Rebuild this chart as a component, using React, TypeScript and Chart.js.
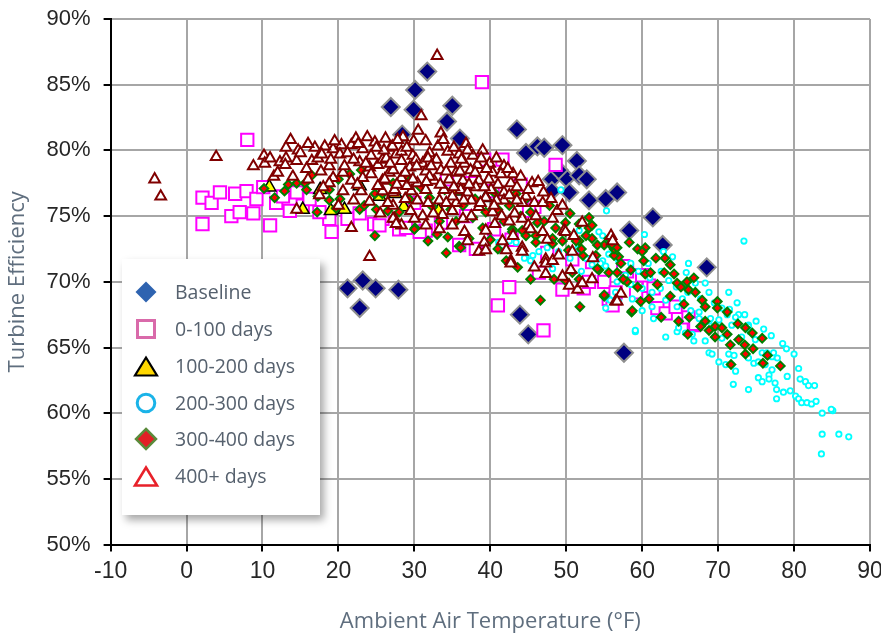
import React, { useEffect, useRef } from 'react';
import { Chart, registerables } from 'chart.js';

Chart.register(...registerables);

type P = [number, number];

// ---- Axis / tick data ----
const X_MIN = -10;
const X_MAX = 90;
const X_STEP = 10;
const Y_MIN = 50;
const Y_MAX = 90;
const Y_STEP = 5;

const SERIES_NAMES = ['Baseline', '0-100 days', '100-200 days', '200-300 days', '300-400 days', '400+ days'];

// ---- Series values: [ambient temperature °F, turbine efficiency %] ----
const baseline: P[] = [
  [31.7, 86.0], [30.1, 84.6], [26.9, 83.3], [29.9, 83.1], [35.0, 83.4], [34.3, 82.2], [28.4, 81.2], [36.0, 80.9],
  [43.5, 81.6], [44.7, 79.8], [46.2, 80.3], [47.1, 80.2], [49.5, 80.4], [51.4, 79.2], [48.1, 77.8], [50.0, 77.9],
  [51.7, 78.1], [52.7, 77.8], [49.0, 78.5], [48.1, 76.9], [50.4, 76.8], [53.0, 76.2], [55.2, 76.3], [56.7, 76.8],
  [61.4, 74.9], [58.3, 73.9], [62.7, 72.8], [68.5, 71.1], [57.6, 64.6], [43.9, 67.5], [45.0, 66.0], [21.2, 69.5],
  [23.2, 70.1], [24.9, 69.5], [22.8, 68.0], [27.9, 69.4],
];

const days0to100: P[] = [
  [8.0, 80.8], [2.1, 76.4], [3.3, 76.0], [4.4, 76.8], [6.4, 76.7], [7.9, 76.9], [9.2, 76.3], [5.9, 75.0],
  [7.0, 75.3], [8.8, 75.2], [2.1, 74.4], [11.0, 74.3], [11.8, 76.0], [12.7, 76.5], [13.6, 75.4], [15.3, 75.8],
  [16.2, 76.3], [19.1, 73.8], [18.8, 74.8], [21.2, 74.8], [22.8, 75.2], [24.7, 74.4], [25.8, 74.8], [10.1, 77.2],
  [17.5, 75.3], [14.5, 76.8],
  [38.9, 85.2], [41.6, 79.3], [39.2, 79.3], [48.6, 78.9], [44.0, 77.4], [45.8, 75.7], [25.4, 74.3], [28.0, 74.0],
  [28.9, 74.1], [31.1, 73.8], [31.5, 73.9], [30.7, 73.8], [35.9, 72.8], [38.1, 72.5], [45.1, 75.4], [53.4, 71.5],
  [50.8, 71.7], [46.4, 70.7], [49.5, 69.4], [52.3, 69.5], [53.0, 70.0], [55.6, 68.7], [42.5, 69.6], [41.0, 68.2],
  [47.0, 66.3], [33.5, 74.5], [36.8, 75.0], [40.5, 74.0], [42.8, 73.2], [47.5, 72.2], [37.5, 77.5], [40.3, 76.9],
  [34.3, 77.8], [30.0, 76.0],
  [55.0, 70.0], [56.5, 69.2], [56.1, 68.2], [60.9, 69.7], [61.5, 69.5], [62.0, 68.0], [63.1, 67.6], [64.4, 68.1],
  [66.8, 66.7], [66.1, 67.3], [67.0, 66.8], [58.0, 70.8], [59.2, 69.2], [57.5, 71.2], [60.0, 70.5],
];

const days100to200: P[] = [
  [10.9, 77.2], [15.3, 75.5], [19.0, 75.4], [20.8, 75.5], [22.8, 77.3], [25.4, 76.5], [27.5, 76.7], [28.6, 75.7],
  [33.2, 75.4], [35.5, 76.9], [39.4, 76.4], [17.6, 77.0],
];

const days200to300: P[] = [
  [59.1, 66.2], [61.5, 67.2], [63.1, 65.8], [64.6, 66.2], [65.7, 66.1], [66.8, 65.5], [66.6, 66.0], [68.3, 65.5],
  [67.5, 67.2], [68.8, 67.0], [70.1, 67.1], [71.2, 67.5], [72.7, 67.5], [71.8, 66.7], [74.0, 66.7], [74.2, 66.2],
  [73.1, 65.8], [74.9, 65.6], [71.6, 65.2], [70.5, 65.7], [68.8, 64.6], [69.2, 64.5], [70.1, 63.9], [71.0, 63.7],
  [72.3, 63.2], [71.4, 64.5], [72.1, 64.4], [74.0, 64.2], [74.7, 63.8], [75.3, 63.9], [75.8, 64.6], [76.4, 64.6],
  [77.1, 64.3], [77.3, 64.6], [77.8, 64.2], [76.2, 63.7], [77.1, 63.3], [76.7, 62.9], [75.3, 62.7], [75.8, 62.4],
  [76.7, 62.6], [77.5, 62.3], [77.7, 61.8], [78.6, 61.6], [79.5, 61.7], [80.6, 63.4], [80.8, 62.6], [81.5, 62.4],
  [81.9, 62.1], [82.7, 62.1], [79.1, 62.8], [80.2, 61.3], [80.6, 61.1], [81.0, 60.8], [81.7, 60.8], [82.3, 60.7],
  [82.9, 60.9], [77.7, 61.1], [74.0, 61.8], [72.0, 62.2], [83.7, 60.0], [85.1, 60.2], [83.7, 58.4], [85.9, 58.4],
  [87.2, 58.2], [83.6, 56.9], [84.9, 60.3],
  [55.3, 75.4], [60.3, 73.6], [73.4, 73.1], [64.0, 71.9], [66.1, 71.4], [65.8, 70.7], [68.3, 69.9], [68.8, 69.2],
  [71.4, 69.2], [67.7, 68.7], [65.3, 68.7], [63.1, 68.6], [62.4, 69.5], [64.6, 68.1], [61.3, 68.1], [60.0, 67.8],
  [58.7, 68.7], [56.9, 68.5], [55.2, 68.0], [55.6, 68.7], [54.8, 71.6], [55.2, 71.2], [56.7, 70.0], [58.5, 71.4],
  [66.4, 67.8], [67.5, 67.7], [69.0, 67.2], [72.3, 67.3], [74.0, 66.6], [59.1, 66.3], [54.8, 73.5], [64.8, 66.5],
  [61.3, 69.2], [60.0, 69.5],
  [41.4, 72.4], [42.5, 73.1], [43.4, 73.0], [44.7, 71.9], [45.6, 72.0], [46.4, 72.3], [47.5, 72.6], [48.2, 71.0],
  [51.7, 73.9], [54.3, 73.8], [55.6, 72.1], [56.9, 71.6], [53.4, 71.3], [52.6, 71.8], [54.5, 71.4], [55.8, 68.6],
  [56.5, 69.2], [49.3, 77.0], [44.5, 71.8], [45.3, 71.6], [41.1, 73.0],
  [49.0, 72.3], [50.5, 71.8], [51.5, 72.5], [52.0, 70.8], [53.5, 70.2], [57.8, 70.5], [58.5, 69.8], [59.5, 70.8],
  [61.0, 70.3], [62.5, 70.8], [63.5, 70.1], [64.5, 69.6], [66.0, 69.2], [67.0, 69.9], [69.5, 68.4], [70.5, 68.0],
  [71.5, 67.9], [72.5, 68.4], [73.5, 67.5], [75.0, 67.0], [76.0, 66.4], [77.0, 65.9], [78.5, 65.3], [80.0, 64.5],
  [79.0, 64.9], [62.8, 72.3], [60.8, 71.4],
];

const days300to400: P[] = [
  [58.6, 67.7], [64.8, 67.0], [66.2, 67.3], [68.3, 67.0], [67.7, 66.6], [68.8, 66.3], [69.6, 66.6], [69.6, 65.8],
  [71.2, 66.0], [72.6, 66.8], [73.6, 66.5], [71.6, 65.2], [72.7, 65.6], [73.5, 65.2], [74.6, 64.9], [73.6, 64.5],
  [75.8, 65.7], [75.9, 63.8], [78.2, 63.6], [71.7, 63.7], [71.2, 67.7],
  [58.3, 73.0], [59.4, 72.5], [60.4, 72.6], [60.0, 72.3], [61.8, 71.8], [60.2, 71.6], [63.7, 71.3], [56.9, 71.9],
  [56.3, 72.0], [57.2, 71.4], [55.6, 70.7], [56.7, 70.7], [58.5, 70.9], [58.0, 70.0], [59.4, 69.6], [60.4, 70.6],
  [61.1, 70.7], [62.9, 70.7], [64.2, 70.6], [64.6, 69.9], [65.1, 69.6], [65.9, 70.0], [66.8, 70.3], [66.1, 69.4],
  [67.0, 69.2], [63.7, 68.9], [60.9, 68.7], [59.8, 68.5], [58.7, 67.8], [55.0, 68.9], [67.9, 68.6], [68.3, 68.1],
  [69.9, 68.5], [69.9, 68.0], [54.3, 70.9], [55.0, 72.8], [55.9, 72.8], [56.3, 72.5],
  [30.1, 74.1], [31.8, 73.1], [34.2, 72.2], [35.9, 72.7], [34.4, 73.4], [41.0, 72.5], [42.1, 71.6], [43.6, 71.1],
  [45.3, 70.2], [46.6, 68.6], [48.4, 70.2], [51.8, 68.1], [52.2, 72.0], [53.9, 72.0], [54.1, 71.0], [56.1, 72.8],
  [49.9, 73.8], [48.2, 73.3], [46.0, 73.5], [44.2, 73.9], [42.9, 74.0], [53.0, 74.1], [51.7, 73.1], [53.4, 73.3],
  [55.0, 69.0], [50.8, 70.7], [49.9, 70.1], [51.7, 70.2],
  [26.5, 75.4], [28.0, 75.3], [30.0, 74.0], [36.1, 72.6], [37.2, 73.3], [39.0, 74.1], [43.4, 76.7], [42.5, 75.8],
  [44.7, 76.3], [45.3, 75.3], [46.2, 74.5], [47.1, 74.6], [48.6, 74.1], [49.9, 74.5], [51.7, 74.4], [53.0, 74.9],
  [53.4, 74.3], [52.6, 73.5], [51.3, 73.1], [54.1, 72.8], [55.6, 73.3], [56.7, 72.6], [49.5, 73.1], [48.2, 72.9],
  [46.0, 73.0], [44.7, 73.5], [42.9, 73.8], [32.4, 75.7], [34.8, 75.5], [33.3, 74.6], [35.5, 74.6], [37.7, 74.9],
  [39.4, 75.3], [41.0, 75.5], [36.4, 75.8], [29.3, 76.3], [32.0, 76.4], [25.8, 76.7], [27.2, 77.5],
  [10.2, 77.1], [11.6, 76.4], [12.9, 76.9], [13.4, 77.4], [14.5, 77.5], [15.6, 77.5], [15.8, 77.0], [16.5, 78.1],
  [17.3, 76.5], [18.8, 76.2], [18.8, 77.0], [19.7, 75.6], [20.2, 76.3], [21.5, 78.2], [22.8, 75.5], [23.4, 75.8],
  [24.8, 76.7], [25.0, 75.5], [24.8, 73.5], [17.2, 75.3],
  [38.0, 76.3], [40.5, 76.8], [30.8, 77.2], [34.0, 77.0], [28.8, 78.0], [23.0, 78.5], [20.0, 77.8], [36.5, 77.5],
  [41.8, 74.6], [44.0, 75.0], [47.8, 75.8], [50.5, 75.2], [52.0, 72.5], [57.5, 70.2], [62.0, 69.8], [63.0, 71.8],
  [65.5, 68.3], [62.5, 67.3], [66.0, 66.0], [70.5, 66.5], [74.5, 66.1], [76.5, 64.4], [50.3, 72.4], [40.0, 73.2],
  [33.0, 73.6], [27.5, 74.6],
];

const days400plus: P[] = [
  [-4.2, 77.8], [-3.4, 76.5], [3.9, 79.5], [8.8, 78.8], [10.2, 79.6], [10.3, 79.0], [11.5, 78.0], [13.7, 80.8],
  [13.1, 80.2], [14.7, 80.0], [12.3, 79.1], [13.1, 79.4], [14.5, 79.2], [16.5, 79.2], [16.9, 80.2], [17.3, 79.4],
  [18.8, 78.8], [19.3, 80.1], [20.4, 80.4], [21.7, 80.4], [20.2, 79.7], [21.2, 79.8], [23.2, 80.1], [24.3, 79.6],
  [22.8, 79.1], [24.1, 78.7], [25.2, 78.9], [25.8, 79.3], [26.9, 80.2], [27.6, 79.7], [17.7, 78.4], [19.3, 77.9],
  [20.6, 78.3], [21.7, 77.7], [23.2, 77.9], [24.3, 78.2], [25.8, 77.7], [26.7, 78.3], [23.0, 76.9], [24.1, 76.1],
  [27.2, 75.8], [27.4, 74.8], [14.5, 75.5], [21.7, 74.1], [24.1, 71.9], [18.8, 77.5], [20.6, 76.9], [25.8, 76.9],
  [27.2, 76.8],
  [33.0, 87.2], [30.9, 82.6], [33.5, 81.3],
  [29.9, 80.7], [31.5, 80.7], [27.1, 80.3], [33.1, 80.3], [34.4, 79.9], [35.9, 79.7], [37.7, 79.6], [39.9, 79.0],
  [41.8, 78.8], [28.3, 79.9], [29.8, 79.6], [32.0, 79.8], [26.3, 79.4], [28.3, 79.2], [31.1, 79.0], [32.9, 79.3],
  [34.8, 79.0], [36.6, 79.0], [38.3, 78.9], [27.2, 78.5], [29.4, 78.7], [31.5, 78.4], [33.5, 78.5], [35.5, 78.3],
  [37.4, 78.5], [40.3, 78.3], [41.4, 78.2], [42.7, 77.5], [26.1, 77.8], [28.3, 77.9], [30.4, 77.5], [32.6, 77.7],
  [34.6, 77.8], [36.4, 77.7], [38.5, 77.7], [41.0, 77.4], [27.4, 77.0], [29.6, 76.9], [31.5, 77.0], [33.9, 77.0],
  [36.1, 77.0], [38.1, 77.2], [40.1, 77.0], [41.8, 76.8], [44.7, 76.5], [26.5, 76.0], [30.4, 76.2], [33.3, 76.2],
  [35.5, 76.0], [37.5, 76.2], [39.4, 76.4], [41.8, 76.2], [44.2, 76.0], [45.8, 76.0], [46.9, 76.0], [48.8, 75.4],
  [48.2, 74.8], [27.2, 74.8], [31.1, 75.0], [33.7, 75.1], [36.4, 74.8], [38.5, 75.7], [40.3, 75.3], [42.5, 74.6],
  [44.2, 74.8], [46.0, 75.0], [28.3, 74.3], [33.3, 74.0], [36.6, 73.8], [39.4, 73.9], [41.6, 73.1], [39.2, 73.0],
  [38.5, 72.3], [42.7, 71.6], [44.2, 72.6], [47.3, 71.7], [49.7, 73.9], [52.1, 74.5], [55.9, 73.5], [45.8, 71.1],
  [27.6, 74.4], [37.0, 73.1], [39.4, 72.4], [42.1, 72.4], [42.7, 71.4], [44.2, 72.3], [47.3, 71.4], [48.2, 71.6],
  [47.3, 70.6], [49.5, 70.4], [50.6, 70.9], [50.4, 69.7], [51.5, 69.4], [52.1, 69.9], [53.4, 70.2], [56.5, 68.5],
  [49.9, 73.8], [46.9, 73.8], [56.1, 73.1], [57.2, 69.1], [56.7, 68.5],
  [43.5, 77.2], [45.5, 77.5], [47.0, 76.8], [43.0, 78.2], [39.0, 80.0], [36.8, 80.5], [30.5, 81.5], [28.5, 81.0],
  [24.8, 80.6], [22.3, 80.9], [19.0, 79.3], [15.8, 78.6], [12.0, 78.3], [29.0, 77.3], [32.0, 78.0], [35.0, 76.5],
  [37.0, 76.8], [39.8, 77.8], [43.2, 75.2], [45.0, 74.3], [47.5, 73.2], [50.8, 72.3], [53.5, 71.8], [51.0, 73.5],
  [49.0, 72.0], [35.0, 75.4], [30.0, 74.8], [25.5, 75.2], [22.0, 76.2], [20.0, 75.8], [17.5, 76.6], [16.0, 77.8],
  [26.0, 80.0], [27.8, 80.8], [29.0, 80.2], [30.2, 79.3], [31.8, 79.4], [33.8, 80.8], [35.2, 80.2], [36.2, 79.3],
  [37.0, 80.0], [38.8, 79.4], [40.8, 79.4], [42.3, 78.6], [44.0, 78.0], [45.0, 77.0], [46.3, 77.6], [48.0, 76.3],
  [49.5, 75.8], [26.8, 79.0], [28.8, 78.3], [30.3, 78.8], [32.2, 78.8], [34.2, 78.4], [36.0, 78.4], [38.0, 78.3],
  [39.5, 78.6], [27.7, 77.4], [29.8, 77.8], [31.6, 77.6], [33.4, 77.4], [35.2, 77.2], [37.2, 77.4], [39.2, 77.2],
  [40.8, 76.2], [42.5, 76.6], [28.8, 76.3], [31.8, 76.0], [34.2, 76.0], [36.5, 76.2], [38.7, 76.0], [40.5, 75.8],
  [43.5, 76.2], [29.5, 75.4], [32.5, 75.2], [37.5, 75.0], [41.5, 75.0], [45.3, 74.0], [43.0, 73.5], [40.6, 74.4],
  [35.0, 74.3], [31.5, 74.3],
  [15.0, 79.8], [16.0, 80.5], [18.2, 80.3], [19.5, 80.7], [22.6, 80.5], [23.8, 81.0], [17.8, 79.7], [22.0, 79.3],
  [25.0, 80.2], [20.8, 78.8], [23.6, 79.0], [26.2, 80.9], [18.0, 77.2], [22.5, 77.4], [25.2, 77.3], [14.0, 78.0],
  [13.0, 78.9], [11.0, 79.4],
];

const toPoints = (arr: P[]) => arr.map(([x, y]) => ({ x, y }));

const TICK_FONT = "'Liberation Sans Narrow', 'Arial Narrow', 'Liberation Sans', Arial, sans-serif";
const TITLE_FONT = "'Open Sans', 'Noto Sans', sans-serif";

type LegendItem = { name: string; marker: React.ReactNode };

const legendItems: LegendItem[] = [
  { name: SERIES_NAMES[0], marker: <polygon points="15,4.5 25.5,15 15,25.5 4.5,15" fill="#2e63b0" /> },
  { name: SERIES_NAMES[1], marker: <rect x="6.5" y="6.5" width="17" height="17" fill="#fff" stroke="#d96aaa" strokeWidth="3" /> },
  { name: SERIES_NAMES[2], marker: <polygon points="15,6.5 26,24.5 4,24.5" fill="#ffd700" stroke="#000" strokeWidth="2.2" /> },
  { name: SERIES_NAMES[3], marker: <circle cx="15" cy="15" r="8.8" fill="#fff" stroke="#1ab3e8" strokeWidth="3" /> },
  { name: SERIES_NAMES[4], marker: <polygon points="15,5 25,15 15,25 5,15" fill="#e21f26" stroke="#5b8b3b" strokeWidth="2.5" /> },
  { name: SERIES_NAMES[5], marker: <polygon points="15,6.5 26,24.5 4,24.5" fill="#fff" stroke="#e8212a" strokeWidth="2.6" /> },
];

const ROW_CENTERS = [33, 70, 107, 144, 180, 217];

function Legend() {
  return (
    <div
      style={{
        position: 'absolute',
        left: 114,
        top: 251,
        width: 198,
        height: 256,
        background: '#fff',
        boxShadow: '4px 5px 8px rgba(0,0,0,0.35)',
      }}
    >
      {legendItems.map((it, i) => (
        <div key={it.name} style={{ position: 'absolute', left: 0, top: ROW_CENTERS[i] - 15, height: 30, width: 198 }}>
          <svg width={30} height={30} style={{ position: 'absolute', left: 9, top: 0 }}>
            {it.marker}
          </svg>
          <span
            style={{
              position: 'absolute',
              left: 53,
              top: 0,
              lineHeight: '30px',
              fontFamily: TITLE_FONT,
              fontSize: 19.5,
              color: '#56616e',
              whiteSpace: 'nowrap',
            }}
          >
            {it.name}
          </span>
        </div>
      ))}
    </div>
  );
}

export default function App() {
  const canvasRef = useRef<HTMLCanvasElement | null>(null);

  useEffect(() => {
    if (!canvasRef.current) return;
    const chart = new Chart(canvasRef.current, {
      type: 'scatter',
      data: {
        datasets: [
          {
            label: SERIES_NAMES[0],
            data: toPoints(baseline),
            pointStyle: 'rectRot',
            pointRadius: 9,
            backgroundColor: '#000080',
            borderColor: '#8f8f8f',
            borderWidth: 2,
            order: 6,
          },
          {
            label: SERIES_NAMES[1],
            data: toPoints(days0to100),
            pointStyle: 'rect',
            pointRadius: 8.7,
            backgroundColor: '#ffffff',
            borderColor: '#ff00ff',
            borderWidth: 2,
            order: 5,
          },
          {
            label: SERIES_NAMES[2],
            data: toPoints(days100to200),
            pointStyle: 'triangle',
            pointRadius: 7.5,
            backgroundColor: '#ffff00',
            borderColor: '#000000',
            borderWidth: 1.5,
            order: 4,
          },
          {
            label: SERIES_NAMES[3],
            data: toPoints(days200to300),
            pointStyle: 'circle',
            pointRadius: 2.7,
            backgroundColor: '#ffffff',
            borderColor: '#00ffff',
            borderWidth: 1.8,
            order: 3,
          },
          {
            label: SERIES_NAMES[4],
            data: toPoints(days300to400),
            pointStyle: 'rectRot',
            pointRadius: 4.3,
            backgroundColor: '#ff0000',
            borderColor: '#008000',
            borderWidth: 2,
            order: 2,
          },
          {
            label: SERIES_NAMES[5],
            data: toPoints(days400plus),
            pointStyle: 'triangle',
            pointRadius: 6.2,
            backgroundColor: '#ffffff',
            borderColor: '#800000',
            borderWidth: 2,
            order: 1,
          },
        ],
      },
      options: {
        animation: false,
        responsive: true,
        maintainAspectRatio: false,
        devicePixelRatio: 1,
        layout: { padding: { top: 7, right: 9.4, left: 0, bottom: 0 } },
        plugins: {
          legend: { display: false },
          tooltip: { enabled: false },
        },
        scales: {
          x: {
            type: 'linear',
            min: X_MIN,
            max: X_MAX,
            ticks: {
              stepSize: X_STEP,
              color: '#262626',
              padding: 6,
              font: { family: TICK_FONT, size: 23 },
            },
            grid: { color: '#a6a6a6', lineWidth: 2, tickColor: '#000', tickLength: 7, tickWidth: 2 },
            border: { color: '#000', width: 2 },
            title: {
              display: true,
              text: 'Ambient Air Temperature (°F)',
              color: '#5f6e7e',
              font: { family: TITLE_FONT, size: 22, lineHeight: 1 },
              padding: { top: 0, bottom: 3 },
            },
            afterFit: (s: any) => {
              s.height = 91.4;
              s.paddingLeft = 0;
              s.paddingRight = 0;
            },
          },
          y: {
            type: 'linear',
            min: Y_MIN,
            max: Y_MAX,
            ticks: {
              stepSize: Y_STEP,
              color: '#262626',
              padding: 13,
              font: { family: "'Liberation Sans', Arial, sans-serif", size: 22 },
              callback: (v: any) => `${v}%`,
            },
            grid: { color: '#a6a6a6', lineWidth: 2, tickColor: '#000', tickLength: 7, tickWidth: 2 },
            border: { color: '#000', width: 2 },
            title: {
              display: true,
              text: 'Turbine Efficiency',
              color: '#5f6e7e',
              font: { family: TITLE_FONT, size: 22, lineHeight: 1 },
              padding: { top: -1, bottom: 0 },
            },
            afterFit: (s: any) => {
              s.width = 102.6;
              s.paddingTop = 0;
              s.paddingBottom = 0;
            },
          },
        },
      } as any,
    });
    return () => chart.destroy();
  }, []);

  return (
    <div style={{ position: 'relative', width: 873, height: 628 }}>
      <canvas ref={canvasRef} />
      <Legend />
    </div>
  );
}
